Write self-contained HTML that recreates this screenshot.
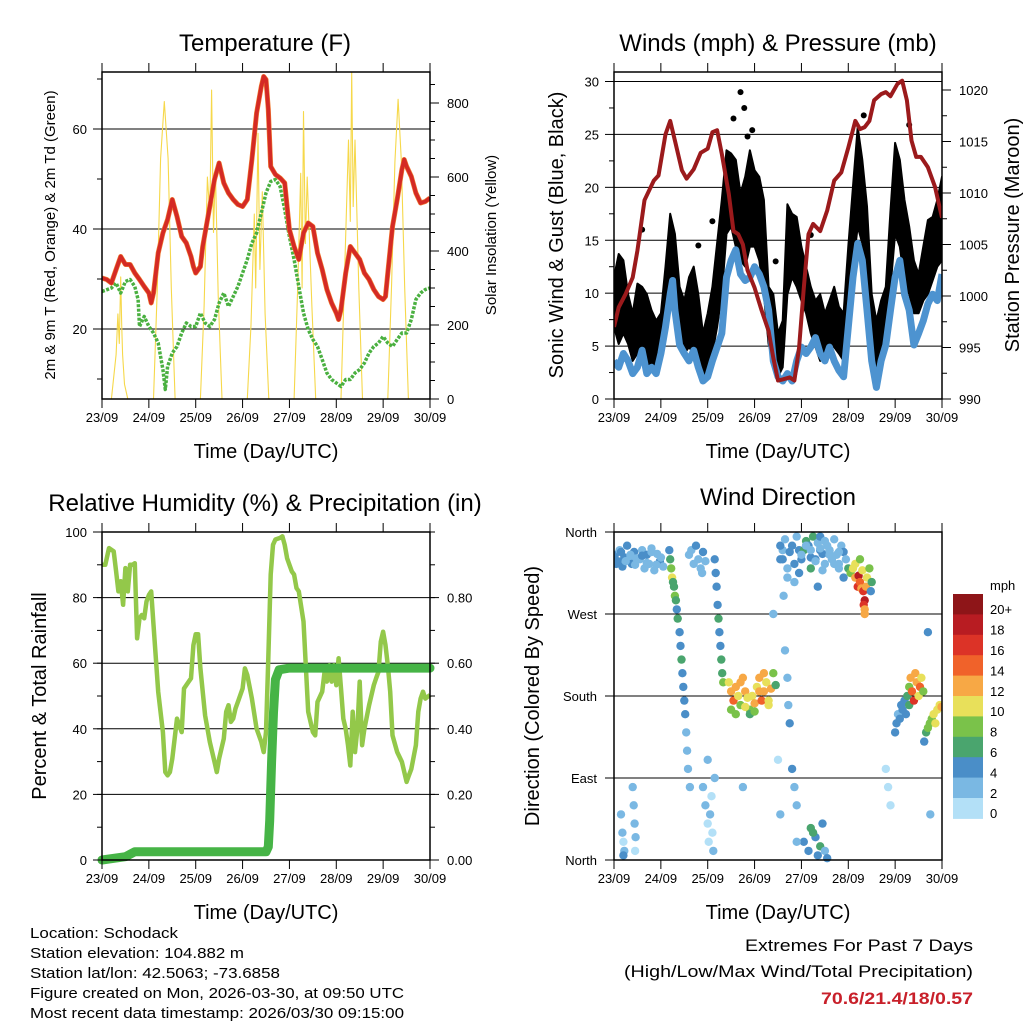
<!DOCTYPE html>
<html><head><meta charset="utf-8"><style>
html,body{margin:0;padding:0;background:#fff;}
svg{display:block;font-family:"Liberation Sans",sans-serif;}
</style></head><body>
<svg id="c" width="1024" height="1024" viewBox="0 0 1024 1024" xmlns="http://www.w3.org/2000/svg"></svg>
<script>
// ---------- Temperature panel data ----------
const tempT=[0,0.1,0.2,0.3,0.4,0.5,0.6,0.7,0.8,0.9,1.0,1.05,1.1,1.2,1.3,1.4,1.5,1.6,1.7,1.8,1.9,1.95,2.0,2.1,2.15,2.3,2.4,2.5,2.6,2.7,2.8,2.9,3.0,3.1,3.2,3.3,3.4,3.45,3.5,3.55,3.6,3.7,3.8,3.9,4.0,4.1,4.2,4.3,4.4,4.5,4.6,4.7,4.8,4.9,5.0,5.05,5.1,5.2,5.3,5.4,5.5,5.6,5.7,5.8,5.9,6.0,6.05,6.1,6.2,6.3,6.4,6.45,6.5,6.6,6.7,6.8,6.9,7.0];
const tempV=[30.2,29.9,29.2,31.9,34.5,32.9,32.9,31.2,29.9,28.5,27.2,25.2,27.2,35.2,39.2,41.9,45.9,42.5,38.5,37.2,34.5,32.5,31.2,32.5,36.5,44.5,49.9,53.2,49.2,47.2,45.9,44.9,44.5,45.9,53.9,63.2,68.5,70.5,69.9,63.9,52.5,50.9,50.2,49.2,39.9,36.5,33.9,39.2,41.2,40.5,35.2,31.9,27.9,25.2,23.2,21.9,23.9,31.2,36.5,35.2,33.9,31.2,29.9,27.9,26.5,25.9,26.5,31.2,40.5,45.9,51.9,53.9,52.5,50.5,47.2,45.2,45.5,46.2];
const dewT=[0,0.2,0.3,0.4,0.5,0.6,0.7,0.77,0.8,0.9,1.0,1.1,1.2,1.3,1.35,1.4,1.5,1.6,1.7,1.8,1.9,2.0,2.1,2.2,2.3,2.4,2.5,2.6,2.7,2.8,2.9,3.0,3.1,3.2,3.3,3.4,3.5,3.6,3.7,3.8,3.9,4.0,4.1,4.2,4.3,4.4,4.5,4.6,4.7,4.8,4.9,5.0,5.1,5.2,5.3,5.4,5.5,5.6,5.7,5.8,5.9,6.0,6.1,6.2,6.3,6.4,6.5,6.6,6.7,6.8,6.9,7.0];
const dewV=[27.5,28.2,29.2,27.2,29.5,29.9,28.5,25.9,20.5,22.5,20.5,19.2,17.2,11.9,7.9,12.5,15.2,16.5,19.2,21.2,20.5,20.5,23.2,21.2,20.5,21.9,25.2,27.2,24.5,26.5,28.5,31.2,33.9,37.2,39.2,43.2,47.2,49.5,49.9,48.5,43.9,38.5,33.9,28.5,23.2,19.9,17.9,16.5,13.9,11.2,9.9,9.2,8.5,9.9,9.9,11.2,11.9,13.2,15.2,16.5,17.2,18.5,17.2,16.5,17.9,19.2,19.2,21.9,25.9,27.2,27.9,28.2];
const solarT=[0.2,0.3,0.34,0.37,0.4,0.42,0.44,0.48,0.55,1.1,1.18,1.25,1.33,1.41,1.48,1.56,2.1,2.18,2.25,2.3,2.34,2.38,2.42,2.48,2.56,3.1,3.18,3.25,3.28,3.33,3.37,3.42,3.48,3.56,4.1,4.18,4.24,4.27,4.3,4.34,4.38,4.48,4.56,5.1,5.18,5.26,5.3,5.33,5.36,5.4,5.48,5.56,6.1,6.18,6.25,6.32,6.39,6.46,6.54];
const solarV=[0,120,230,150,330,200,120,40,0,0,300,650,804,650,300,0,0,250,600,500,835,450,620,280,0,0,200,500,300,718,350,560,230,0,0,320,610,300,777,420,600,250,0,0,350,700,480,885,520,700,300,0,0,310,640,810,640,300,0];
// ---------- Wind panel data ----------
const presT=[0,0.1,0.25,0.4,0.5,0.65,0.85,0.95,1.1,1.2,1.3,1.45,1.55,1.7,1.85,2.0,2.1,2.2,2.3,2.45,2.55,2.65,2.75,2.85,3.0,3.15,3.3,3.4,3.5,3.6,3.75,3.85,3.95,4.05,4.15,4.25,4.4,4.55,4.7,4.85,5.0,5.15,5.25,5.35,5.45,5.55,5.7,5.8,5.9,6.05,6.15,6.25,6.35,6.45,6.55,6.7,6.85,7.0];
const presV=[997.0,998.9,1000.2,1001.8,1004.4,1009.3,1011.2,1011.7,1015.7,1017.0,1015.1,1012.2,1011.4,1012.3,1013.9,1014.3,1015.9,1016.1,1013.8,1009.9,1006.3,1006.0,1005.0,1002.5,1000.8,998.6,996.6,994.0,991.8,991.9,992.1,991.8,995.0,1000.8,1006.0,1007.0,1006.3,1008.3,1011.2,1012.0,1014.4,1017.0,1016.2,1016.4,1017.0,1019.0,1019.6,1019.8,1019.4,1020.6,1020.9,1019.0,1015.1,1013.5,1013.5,1012.5,1010.6,1007.6];
const windT=[0,0.1,0.2,0.3,0.4,0.5,0.6,0.7,0.8,0.9,1.0,1.1,1.2,1.25,1.3,1.4,1.5,1.6,1.7,1.8,1.9,2.0,2.1,2.2,2.3,2.4,2.5,2.6,2.7,2.8,2.9,3.0,3.1,3.2,3.3,3.4,3.5,3.6,3.7,3.8,3.9,4.0,4.1,4.2,4.3,4.4,4.5,4.6,4.7,4.8,4.9,5.0,5.1,5.2,5.3,5.4,5.5,5.6,5.7,5.8,5.9,6.0,6.1,6.2,6.3,6.4,6.5,6.6,6.7,6.8,6.9,7.0];
const windV=[3.6,3.0,4.3,3.6,2.4,3.0,4.6,2.4,3.0,2.4,4.3,6.8,9.9,11.2,8.4,5.1,4.3,3.6,4.6,3.0,1.7,2.1,3.6,4.9,6.2,11.5,13.1,14.1,11.8,11.2,11.5,12.5,11.8,10.6,8.4,3.6,2.1,1.7,2.4,1.7,3.6,4.9,4.3,4.9,5.8,4.3,3.6,4.9,3.6,2.7,2.1,6.8,11.5,14.7,13.1,8.4,3.6,1.1,3.6,5.1,8.4,11.5,13.1,9.9,8.4,5.1,6.2,7.4,9.0,9.9,9.3,11.8];
const gustT=[0,0.1,0.2,0.3,0.4,0.5,0.6,0.7,0.8,0.9,1.0,1.1,1.2,1.3,1.4,1.5,1.6,1.7,1.8,1.9,2.0,2.1,2.2,2.3,2.4,2.5,2.6,2.7,2.8,2.9,3.0,3.1,3.2,3.3,3.4,3.5,3.6,3.7,3.8,3.9,4.0,4.1,4.2,4.3,4.4,4.5,4.6,4.7,4.8,4.9,5.0,5.1,5.2,5.3,5.4,5.5,5.6,5.7,5.8,5.9,6.0,6.1,6.2,6.3,6.4,6.5,6.6,6.7,6.8,6.9,7.0];
const gustHi=[11.5,13.7,13.1,9.9,8.1,10.9,10.6,9.9,8.4,7.4,8.1,12.5,17.5,15.6,10.6,9.3,11.5,12.5,9.9,6.2,8.1,10.6,14.7,18.8,23.5,23.2,22.6,19.4,21.0,23.5,21.6,21.0,18.8,10.6,9.9,6.2,7.4,18.4,17.5,17.2,14.4,12.5,10.6,9.3,9.9,8.1,9.3,10.6,8.7,8.1,14.4,20.1,25.7,22.6,18.2,9.9,7.4,9.3,10.6,17.8,24.2,22.6,18.8,16.3,13.1,11.8,14.4,16.9,17.2,18.8,21.0];
const gustLo=[6.8,5.2,6.2,5.2,3.6,4.3,4.9,3.6,3.0,2.7,3.6,6.8,9.3,8.1,5.2,4.3,4.9,4.3,3.6,2.1,3.0,4.3,6.8,9.9,15.6,16.3,14.4,13.1,12.5,14.4,14.4,13.1,9.9,5.2,3.6,2.1,3.0,9.9,11.5,10.6,9.3,8.1,6.2,4.9,3.6,4.3,4.9,4.9,4.3,3.6,7.4,12.5,16.3,14.7,9.9,4.9,3.0,4.3,6.2,10.6,15.6,14.4,11.2,9.9,8.1,8.1,9.3,9.9,11.2,12.5,13.1];
const gustOutT=[2.55,2.7,2.78,2.85,2.95,5.33,6.3,4.2,1.8,0.6,2.1,3.45];
const gustOutV=[26.5,29.0,27.5,24.8,25.4,26.8,25.9,15.5,14.5,16.0,16.8,13.0];
// ---------- RH panel data ----------
const rhT=[0,0.07,0.15,0.25,0.3,0.35,0.4,0.45,0.5,0.55,0.6,0.65,0.7,0.75,0.8,0.85,0.9,0.95,1.0,1.05,1.1,1.2,1.3,1.35,1.4,1.45,1.5,1.6,1.7,1.75,1.85,1.9,1.95,2.0,2.05,2.1,2.2,2.3,2.4,2.45,2.5,2.6,2.65,2.7,2.75,2.8,2.85,2.9,3.0,3.05,3.1,3.2,3.3,3.4,3.45,3.5,3.55,3.6,3.65,3.7,3.8,3.85,3.9,3.95,4.0,4.05,4.1,4.15,4.2,4.3,4.4,4.5,4.55,4.6,4.7,4.75,4.8,4.85,4.9,4.95,5.0,5.05,5.1,5.15,5.2,5.25,5.3,5.35,5.4,5.45,5.5,5.55,5.6,5.7,5.8,5.85,5.9,5.95,6.0,6.05,6.1,6.15,6.2,6.3,6.4,6.5,6.55,6.6,6.7,6.75,6.8,6.85,6.9,7.0];
const rhV=[90,90,95.1,94.1,88,81.9,85,77.8,89,81.9,90,90,90.5,67.6,73.7,74.7,73.7,78.8,80.8,81.9,71.7,51.3,39,26.8,25.8,26.8,30.9,43.1,39,52.3,54.4,55.4,65.5,68.8,68.8,58.4,44.1,36,29.9,26.8,30.9,37,45.2,47.2,42.1,43.1,46.2,48.2,52.3,58.4,56.4,49.2,40,36,32.9,39,61.5,87,96.1,97.7,98.2,98.7,96.1,92,90,88,87,82.9,81.9,72.7,45.2,39,38,48.2,51.3,57.4,54.4,59.4,54.4,59.4,53.3,61.5,52.3,43.1,40,35,28.8,45.2,32.9,40,54.4,35,40,47.2,53.3,55.4,57.4,66.6,69.6,65.5,59.4,51.3,38,32.9,29.9,23.8,25.8,27.7,35,45.2,49.2,51.3,49.2,50.3];
const precT=[0,0.5,0.7,3.5,3.55,3.58,3.62,3.66,3.7,3.78,4.0,7.0];
const precV=[0.0,0.01,0.025,0.025,0.04,0.12,0.30,0.45,0.55,0.58,0.585,0.585];
// ---------- Wind direction panel data ----------
const dirT=[0.02,0.08,0.12,0.18,0.22,0.28,0.33,0.38,0.43,0.48,
0.55,0.6,0.65,0.7,0.75,0.8,0.86,0.92,0.98,1.05,
1.18,1.2,1.22,1.24,1.26,1.28,1.3,1.32,1.34,1.36,
1.4,1.42,1.44,1.46,1.48,1.5,1.52,1.54,1.56,1.58,
1.6,1.65,1.7,1.75,1.8,1.85,1.9,1.95,1.62,1.88,
2.15,2.17,2.19,2.21,2.23,2.25,2.27,2.29,2.31,2.33,
1.9,1.95,2.0,2.02,2.05,2.08,2.1,2.12,2.15,2.0,
0.15,0.18,0.2,0.22,0.4,0.42,0.44,0.46,0.2,0.45,
2.45,2.5,2.55,2.6,2.65,2.7,2.75,2.8,2.85,2.9,
2.95,3.0,3.05,3.1,3.15,3.2,3.25,3.3,3.35,3.4,
2.5,2.6,2.7,2.8,2.9,3.0,3.1,3.2,3.3,3.45,
3.55,3.6,3.62,3.65,3.7,3.72,3.75,3.8,3.85,3.9,
3.55,3.6,3.65,3.7,3.75,3.8,3.85,3.9,3.95,4.0,
4.05,4.1,4.15,4.2,4.25,4.3,4.35,4.4,4.45,4.5,
4.55,4.6,4.65,4.7,4.75,4.8,4.85,4.9,4.95,5.0,
3.7,3.95,4.2,4.35,4.6,4.8,4.1,4.4,4.9,3.85,
5.05,5.1,5.15,5.2,5.22,5.25,5.28,5.3,5.32,5.35,
5.38,5.4,5.45,5.5,5.15,5.25,5.33,5.35,5.35,5.48,
4.05,4.15,4.2,4.3,4.35,4.4,4.45,4.5,4.25,4.55,
6.0,6.03,6.06,6.1,6.13,6.16,6.2,6.23,6.26,6.3,
6.3,6.33,6.36,6.4,6.43,6.46,6.5,6.53,6.56,6.6,
6.62,6.66,6.7,6.74,6.78,6.82,6.86,6.9,6.95,6.99,
3.4,3.5,3.55,5.8,5.85,5.9,6.7,6.75,2.75,3.9,
0.05,0.15,0.25,0.35,0.45,0.6,0.7,0.8,0.9,1.0,
4.0,4.1,4.2,4.3,4.4,4.5,4.6,4.7,4.8,4.45];
const dirD=[335,328,340,322,332,345,330,325,338,331,
330,340,320,335,325,342,318,336,328,322,
340,330,320,310,305,300,290,285,275,265,
250,235,220,205,190,175,160,140,120,100,
335,340,325,345,330,320,338,328,80,315,
330,315,300,280,265,250,235,220,205,195,
80,60,40,20,50,70,30,10,90,110,
50,30,20,10,80,60,40,25,5,10,
195,185,175,190,180,170,200,185,178,165,
180,172,190,200,175,185,195,170,188,205,
165,160,195,168,160,163,185,205,175,192,
330,340,290,230,200,170,150,100,80,60,
345,330,352,320,338,345,325,355,340,330,
340,350,345,332,355,330,348,340,336,325,
345,340,330,352,335,325,345,338,330,320,
310,315,320,300,340,320,345,355,310,305,
315,320,310,300,312,305,298,318,295,285,
300,310,320,305,325,330,280,275,270,295,
20,10,35,25,5,15,40,10,30,2,
140,150,160,155,170,165,175,160,180,170,
190,200,185,175,205,195,180,190,200,185,
130,140,145,150,155,160,150,165,170,168,
270,110,50,100,80,60,250,50,80,20,
325,338,328,335,324,334,326,338,324,332,
335,345,340,328,342,350,335,325,338,318];
const dirS=[4,4,3,4,5,4,2,4,4,3,
2,3,2,4,2,2,3,2,4,2,
4,6,8,10,7,6,8,6,5,7,
5,4,6,5,4,4,4,3,2,2,
2,3,2,4,2,3,4,2,2,3,
4,4,4,5,6,4,4,6,7,8,
2,2,1,0,2,1,0,2,3,2,
2,2,1,2,2,3,2,2,4,1,
10,12,14,12,11,9,12,13,10,8,
10,12,11,13,14,12,10,11,12,9,
8,9,12,11,7,9,13,12,11,6,
4,3,2,3,3,2,4,4,2,3,
4,4,3,2,4,5,4,3,4,4,
6,7,5,4,7,4,3,5,4,2,
2,2,3,2,2,3,2,4,2,6,
3,4,6,5,2,2,6,4,4,3,
8,10,12,16,18,14,12,10,16,18,
12,10,8,6,10,9,16,12,12,4,
4,4,6,5,4,6,4,3,7,4,
4,4,3,4,5,4,4,5,6,7,
8,12,14,16,12,13,10,14,10,9,
4,6,8,9,8,10,10,11,10,12,
2,1,2,1,0,1,4,2,2,3,
4,4,2,3,2,4,2,3,2,2,
2,3,2,2,3,2,2,3,2,3];
const dayLabels=["23/09","24/09","25/09","26/09","27/09","28/09","29/09","30/09"];
const speedColors=["#b3e0f7","#7ab8e3","#4a8ec8","#4aa56e","#7ac24a","#e8e05a","#f7a845","#f0622a","#dc3327","#b81c22","#8e1518"];
const speedLabels=["0","2","4","6","8","10","12","14","16","18","20+"];
const dirLabels=["North","East","South","West","North"];

const NS="http://www.w3.org/2000/svg";
const svg=document.getElementById('c');
function mk(tag,attrs,parent){const e=document.createElementNS(NS,tag);for(const k in attrs)e.setAttribute(k,attrs[k]);(parent||svg).appendChild(e);return e;}
function txt(s,x,y,size,anchor,parent,extra){const e=mk('text',Object.assign({x:x,y:y,'font-size':size,'text-anchor':anchor||'start',fill:'#000'},extra||{}),parent);e.textContent=s;return e;}
function lin(x0,x1,v0,v1){return v=>x0+(v-v0)*(x1-x0)/(v1-v0);}
function pathFrom(ts,vs,xs,ys){let d='';for(let i=0;i<ts.length;i++){d+=(i?'L':'M')+xs(ts[i]).toFixed(1)+','+ys(vs[i]).toFixed(1);}return d;}

function panel(name,L,R,T,B){
  const g=mk('g',{});  
  return {g,L,R,T,B,xs:lin(L,R,0,7)};
}
function frame(p){
  const r=mk('rect',{x:p.L,y:p.T,width:p.R-p.L,height:p.B-p.T,fill:'none',stroke:'#000','stroke-width':1.5},p.g);
   
}
function xAxis(p){
  const g=mk('g',{},p.g);  
  for(let i=0;i<dayLabels.length;i++){
    const x=p.xs(i);
    mk('line',{x1:x,x2:x,y1:p.B,y2:p.B+9,stroke:'#000','stroke-width':1},g);
    mk('line',{x1:x,x2:x,y1:p.T,y2:p.T-9,stroke:'#000','stroke-width':1},g);
    const t=txt(dayLabels[i],x,p.B+23,13,'middle',g);  
  }
  const tt=txt('Time (Day/UTC)',(p.L+p.R)/2,p.B+59,20,'middle',g);  
}
function grid(p,ys,vals){for(const v of vals){const y=ys(v);const l=mk('line',{x1:p.L,x2:p.R,y1:y,y2:y,stroke:'#000','stroke-width':1},p.g);}}
function leftTicks(p,ys,minor,major,labels,fmt){
  const g=mk('g',{},p.g);  
  for(const v of minor){const y=ys(v);mk('line',{x1:p.L,x2:p.L-5,y1:y,y2:y,stroke:'#000'},g);}
  for(const v of major){const y=ys(v);mk('line',{x1:p.L,x2:p.L-9,y1:y,y2:y,stroke:'#000'},g);}
  for(const v of labels){const t=txt(fmt?fmt(v):String(v),p.L-15,ys(v)+5,13,'end',g);}
}
function rightTicks(p,ys,minor,major,labels,fmt){
  const g=mk('g',{},p.g);  
  for(const v of minor){const y=ys(v);mk('line',{x1:p.R,x2:p.R+5,y1:y,y2:y,stroke:'#000'},g);}
  for(const v of major){const y=ys(v);mk('line',{x1:p.R,x2:p.R+9,y1:y,y2:y,stroke:'#000'},g);}
  for(const v of labels){const t=txt(fmt?fmt(v):String(v),p.R+17,ys(v)+5,13,'start',g);}
}
function vtitle(s,x,y,size,g,name){const t=txt(s,0,0,size,'middle',g,{transform:`translate(${x},${y}) rotate(-90)`});return t;}
function title(s,x,y,g){const t=txt(s,x,y,24,'middle',g);}
function range(a,b,s){const r=[];for(let v=a;v<=b+1e-9;v+=s)r.push(+v.toFixed(3));return r;}

// ===== Panel 1: Temperature =====
(function(){
  const p=panel('temperature-panel',102,430,72,399);
  const ys=lin(399,72,6.0,71.4);
  const ys2=lin(399,103,0,800);
  const clip=mk('clipPath',{id:'cp1'},p.g);mk('rect',{x:p.L,y:p.T,width:p.R-p.L,height:p.B-p.T},clip);
  grid(p,ys,[20,40,60]);
  const sg=mk('g',{'clip-path':'url(#cp1)'},p.g);
  const sol=mk('path',{d:pathFrom(solarT,solarV,p.xs,ys2),fill:'none',stroke:'#f6d84a','stroke-width':1.1,'stroke-linejoin':'round'},sg);
  
  const dew=mk('path',{d:pathFrom(dewT,dewV,p.xs,ys),fill:'none',stroke:'#4ab040','stroke-width':3.5,'stroke-dasharray':'3 1.5','stroke-linejoin':'round'},sg);
  
  const t9=mk('path',{d:pathFrom(tempT,tempV,p.xs,ys),fill:'none',stroke:'#f07a30','stroke-width':5,'stroke-linejoin':'round'},sg);
  
  const t2=mk('path',{d:pathFrom(tempT,tempV,p.xs,ys),fill:'none',stroke:'#d42a25','stroke-width':3.8,'stroke-linejoin':'round'},sg);
  
  frame(p);xAxis(p);
  leftTicks(p,ys,range(10,70,10),[20,40,60],[20,40,60]);
  rightTicks(p,ys2,range(50,850,50),[0,200,400,600,800],[0,200,400,600,800]);
  title('Temperature (F)',265,51,p.g);
  vtitle('2m & 9m T (Red, Orange) & 2m Td (Green)',55,235,15,p.g,'y-axis-title');
  vtitle('Solar Insolation (Yellow)',496,235,15,p.g,'y2-axis-title');
})();

// ===== Panel 2: Winds & Pressure =====
(function(){
  const p=panel('winds-pressure-panel',614,942,72,399);
  const ys=lin(399,81.5,0,30);
  const ys2=lin(399,90,990,1020);
  const clip=mk('clipPath',{id:'cp2'},p.g);mk('rect',{x:p.L,y:p.T,width:p.R-p.L,height:p.B-p.T},clip);
  grid(p,ys,[5,10,15,20,25,30]);
  const sg=mk('g',{'clip-path':'url(#cp2)'},p.g);
  let d='';for(let i=0;i<gustT.length;i++){d+=(i?'L':'M')+p.xs(gustT[i]).toFixed(1)+','+ys(gustHi[i]).toFixed(1);}
  for(let i=gustT.length-1;i>=0;i--){d+='L'+p.xs(gustT[i]).toFixed(1)+','+ys(gustLo[i]).toFixed(1);}
  const ga=mk('path',{d:d+'Z',fill:'#000',stroke:'#000','stroke-width':2,'stroke-linejoin':'round'},sg);
  
  for(let i=0;i<gustOutT.length;i++){const c=mk('circle',{cx:p.xs(gustOutT[i]),cy:ys(gustOutV[i]),r:3,fill:'#000'},sg);}
  const wl=mk('path',{d:pathFrom(windT,windV,p.xs,ys),fill:'none',stroke:'#4d93d0','stroke-width':7,'stroke-linejoin':'round'},sg);
  
  const pl=mk('path',{d:pathFrom(presT,presV,p.xs,ys2),fill:'none',stroke:'#9b1a1c','stroke-width':4,'stroke-linejoin':'round'},sg);
  
  frame(p);xAxis(p);
  leftTicks(p,ys,range(2.5,30,5),range(0,30,5),range(0,30,5));
  rightTicks(p,ys2,range(990,1020,2.5),range(990,1020,5),range(990,1020,5));
  title('Winds (mph) & Pressure (mb)',778,51,p.g);
  vtitle('Sonic Wind & Gust (Blue, Black)',563,235,20,p.g,'y-axis-title');
  vtitle('Station Pressure (Maroon)',1019,235,20,p.g,'y2-axis-title');
})();

// ===== Panel 3: RH & Precip =====
(function(){
  const p=panel('humidity-precip-panel',102,430,532,860);
  const ys=lin(860,532,0,100);
  const ys2=lin(860,532,0,1.0);
  const clip=mk('clipPath',{id:'cp3'},p.g);mk('rect',{x:p.L-6,y:p.T,width:p.R-p.L+12,height:p.B-p.T+6},clip);
  grid(p,ys,[20,40,60,80]);
  const sg=mk('g',{'clip-path':'url(#cp3)'},p.g);
  const rh=mk('path',{d:pathFrom(rhT,rhV,p.xs,ys),fill:'none',stroke:'#93c84a','stroke-width':4.5,'stroke-linejoin':'round'},sg);
  
  const pr=mk('path',{d:pathFrom(precT,precV,p.xs,ys2),fill:'none',stroke:'#46b446','stroke-width':9,'stroke-linejoin':'round','stroke-linecap':'round'},sg);
  
  frame(p);xAxis(p);
  leftTicks(p,ys,range(10,100,10),range(0,100,20),range(0,100,20));
  rightTicks(p,ys2,range(0.1,1.0,0.1),range(0,0.8,0.2),range(0,0.8,0.2),v=>v.toFixed(2));
  title('Relative Humidity (%) & Precipitation (in)',265,511,p.g);
  vtitle('Percent & Total Rainfall',46,696,20,p.g,'y-axis-title');
})();

// ===== Panel 4: Wind Direction =====
(function(){
  const p=panel('wind-direction-panel',614,942,532,860);
  const ys=lin(860,532,0,360);
  grid(p,ys,[90,180,270]);
  const clip=mk('clipPath',{id:'cp4'},p.g);mk('rect',{x:p.L,y:p.T-4,width:p.R-p.L,height:p.B-p.T+8},clip);
  const sg=mk('g',{'clip-path':'url(#cp4)'},p.g);
  for(let i=0;i<dirT.length;i++){
    const bin=Math.max(0,Math.min(10,Math.floor(dirS[i]/2)));
    const c=mk('circle',{cx:p.xs(dirT[i]).toFixed(1),cy:ys(dirD[i]).toFixed(1),r:4.2,fill:speedColors[bin]},sg);
    
    
  }
  frame(p);xAxis(p);
  const g=mk('g',{},p.g);
  for(let i=0;i<dirLabels.length;i++){const v=i*90,y=ys(v);mk('line',{x1:p.L,x2:p.L-9,y1:y,y2:y,stroke:'#000'},g);
    const t=txt(dirLabels[i],p.L-17,y+5,13,'end',g);}
  title('Wind Direction',778,505,p.g);
  vtitle('Direction (Colored By Speed)',539,696,20,p.g,'y-axis-title');
  const cb=mk('g',{},p.g);
  const top=594,h=20.4;
  for(let i=0;i<speedColors.length;i++){
    const k=speedColors.length-1-i;
    const r=mk('rect',{x:953,y:(top+i*h).toFixed(1),width:30,height:h+0.5,fill:speedColors[k]},cb);
    
    const t=txt(speedLabels[k],990,top+i*h+h/2+10,13,'start',cb);
  }
  const m=txt('mph',990,590,13,'start',cb);
})();

// ===== Footer text =====
(function(){
  const g=mk('g',{});
  const lines=["Location: Schodack","Station elevation: 104.882 m","Station lat/lon: 42.5063; -73.6858","Figure created on Mon, 2026-03-30, at 09:50 UTC","Most recent data timestamp: 2026/03/30 09:15:00"];
  const widths=[148,214,250,374,374];
  for(let i=0;i<lines.length;i++){const t=txt(lines[i],30,938+i*20,15,'start',g,{textLength:widths[i],lengthAdjust:'spacingAndGlyphs'});}
  const g2=mk('g',{});
  const a=txt('Extremes For Past 7 Days',973,951,17,'end',g2,{textLength:228,lengthAdjust:'spacingAndGlyphs'});
  const b=txt('(High/Low/Max Wind/Total Precipitation)',973,977,17,'end',g2,{textLength:349,lengthAdjust:'spacingAndGlyphs'});
  const c=txt('70.6/21.4/18/0.57',973,1004,17,'end',g2,{fill:'#c8202a','font-weight':'bold',textLength:152,lengthAdjust:'spacingAndGlyphs'});
})();
</script>
</body></html>
